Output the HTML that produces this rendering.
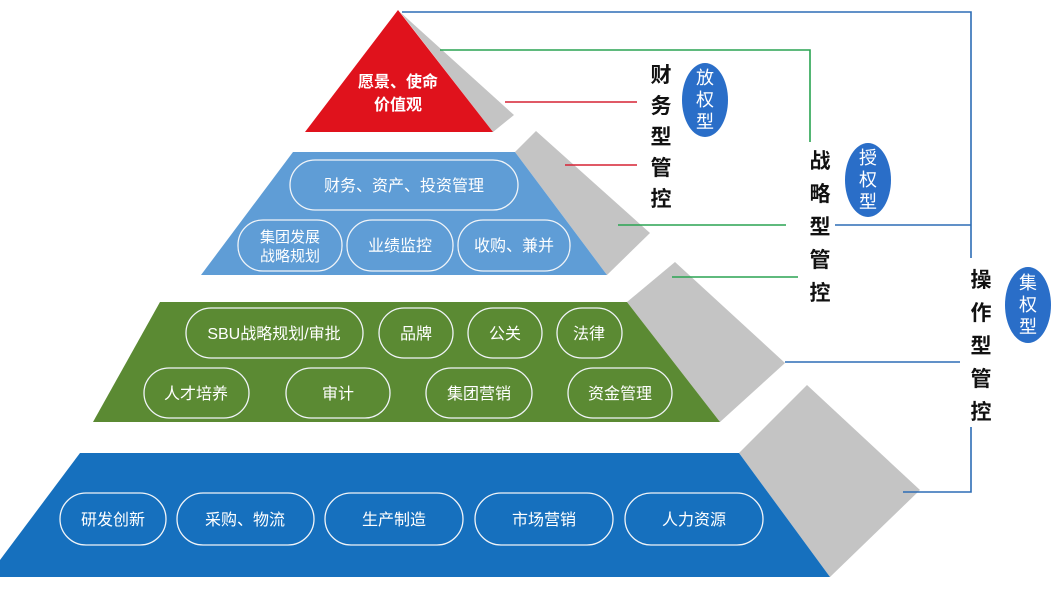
<!DOCTYPE html>
<html><head><meta charset="utf-8"><style>
html,body{margin:0;padding:0;background:#fff;}
svg{display:block;}
text{font-family:"Liberation Sans","Noto Sans CJK SC",sans-serif;}
</style></head><body>
<svg width="1051" height="594" viewBox="0 0 1051 594" xmlns="http://www.w3.org/2000/svg">
<rect width="1051" height="594" fill="#fff"/>
<!-- shadows -->
<polygon points="400,12 514,115 493,132" fill="#c4c4c4"/>
<polygon points="536,131 650,233 607,275 515,152" fill="#c4c4c4"/>
<polygon points="675,262 785,363 720,422 627,302" fill="#c4c4c4"/>
<polygon points="807,385 920,490 830,577 739,453" fill="#c4c4c4"/>
<!-- layers -->
<polygon points="398,10 493,132 305,132" fill="#e0121c"/>
<polygon points="293,152 515,152 607,275 201,275" fill="#5f9dd6"/>
<polygon points="160,302 627,302 720,422 93,422" fill="#5b8a33"/>
<polygon points="80,453 739,453 830,577 0,577 0,560" fill="#1670be"/>
<!-- red text -->
<g fill="#fff" font-size="16" font-weight="bold" text-anchor="middle">
<text x="398" y="87">愿景、使命</text>
<text x="398" y="110">价值观</text>
</g>
<!-- pills -->
<g fill="none" stroke="#f0f4f8" stroke-width="1.3">
<rect x="290" y="160" width="228" height="50" rx="25"/>
<rect x="238" y="220" width="104" height="51" rx="25"/>
<rect x="347" y="220" width="106" height="51" rx="25"/>
<rect x="458" y="220" width="112" height="51" rx="25"/>
<rect x="186" y="308" width="177" height="50" rx="25"/>
<rect x="379" y="308" width="74" height="50" rx="25"/>
<rect x="468" y="308" width="74" height="50" rx="25"/>
<rect x="557" y="308" width="65" height="50" rx="25"/>
<rect x="144" y="368" width="105" height="50" rx="25"/>
<rect x="286" y="368" width="104" height="50" rx="25"/>
<rect x="426" y="368" width="106" height="50" rx="25"/>
<rect x="568" y="368" width="104" height="50" rx="25"/>
<rect x="60" y="493" width="106" height="52" rx="26"/>
<rect x="177" y="493" width="137" height="52" rx="26"/>
<rect x="325" y="493" width="138" height="52" rx="26"/>
<rect x="475" y="493" width="138" height="52" rx="26"/>
<rect x="625" y="493" width="138" height="52" rx="26"/>
</g>
<g fill="#fff" font-size="16" text-anchor="middle">
<text x="404" y="191">财务、资产、投资管理</text>
<text x="290" y="242" font-size="15">集团发展</text>
<text x="290" y="261" font-size="15">战略规划</text>
<text x="400" y="251">业绩监控</text>
<text x="514" y="251">收购、兼并</text>
<text x="274" y="339">SBU战略规划/审批</text>
<text x="416" y="339">品牌</text>
<text x="505" y="339">公关</text>
<text x="589" y="339">法律</text>
<text x="196" y="399">人才培养</text>
<text x="338" y="399">审计</text>
<text x="479" y="399">集团营销</text>
<text x="620" y="399">资金管理</text>
<text x="113" y="525">研发创新</text>
<text x="245" y="525">采购、物流</text>
<text x="394" y="525">生产制造</text>
<text x="544" y="525">市场营销</text>
<text x="694" y="525">人力资源</text>
</g>
<!-- connector lines -->
<g fill="none" stroke-width="1.6">
<polyline points="402,12 971,12 971,258" stroke="#2d6db5"/>
<polyline points="971,427 971,492 903,492" stroke="#2d6db5"/>
<line x1="835" y1="225" x2="971" y2="225" stroke="#2d6db5"/>
<line x1="785" y1="362" x2="960" y2="362" stroke="#2d6db5"/>
<polyline points="440,50 810,50 810,142" stroke="#2aa452"/>
<line x1="618" y1="225" x2="786" y2="225" stroke="#2aa452"/>
<line x1="672" y1="277" x2="798" y2="277" stroke="#2aa452"/>
<line x1="505" y1="102" x2="637" y2="102" stroke="#d62234"/>
<line x1="565" y1="165" x2="637" y2="165" stroke="#d62234"/>
</g>
<!-- vertical labels -->
<g fill="#111" font-size="21" font-weight="bold" text-anchor="middle">
<text x="661" y="82">财</text><text x="661" y="113">务</text><text x="661" y="144">型</text><text x="661" y="175">管</text><text x="661" y="206">控</text>
<text x="820" y="168">战</text><text x="820" y="201">略</text><text x="820" y="234">型</text><text x="820" y="267">管</text><text x="820" y="300">控</text>
<text x="981" y="287">操</text><text x="981" y="320">作</text><text x="981" y="353">型</text><text x="981" y="386">管</text><text x="981" y="419">控</text>
</g>
<!-- ellipses -->
<g fill="#2a6ec8">
<ellipse cx="705" cy="100" rx="23" ry="37"/>
<ellipse cx="868" cy="180" rx="23" ry="37"/>
<ellipse cx="1028" cy="305" rx="23" ry="38"/>
</g>
<g fill="#fff" font-size="18" text-anchor="middle">
<text x="705" y="84">放</text><text x="705" y="106">权</text><text x="705" y="128">型</text>
<text x="868" y="164">授</text><text x="868" y="186">权</text><text x="868" y="208">型</text>
<text x="1028" y="289">集</text><text x="1028" y="311">权</text><text x="1028" y="333">型</text>
</g>
</svg>
</body></html>
